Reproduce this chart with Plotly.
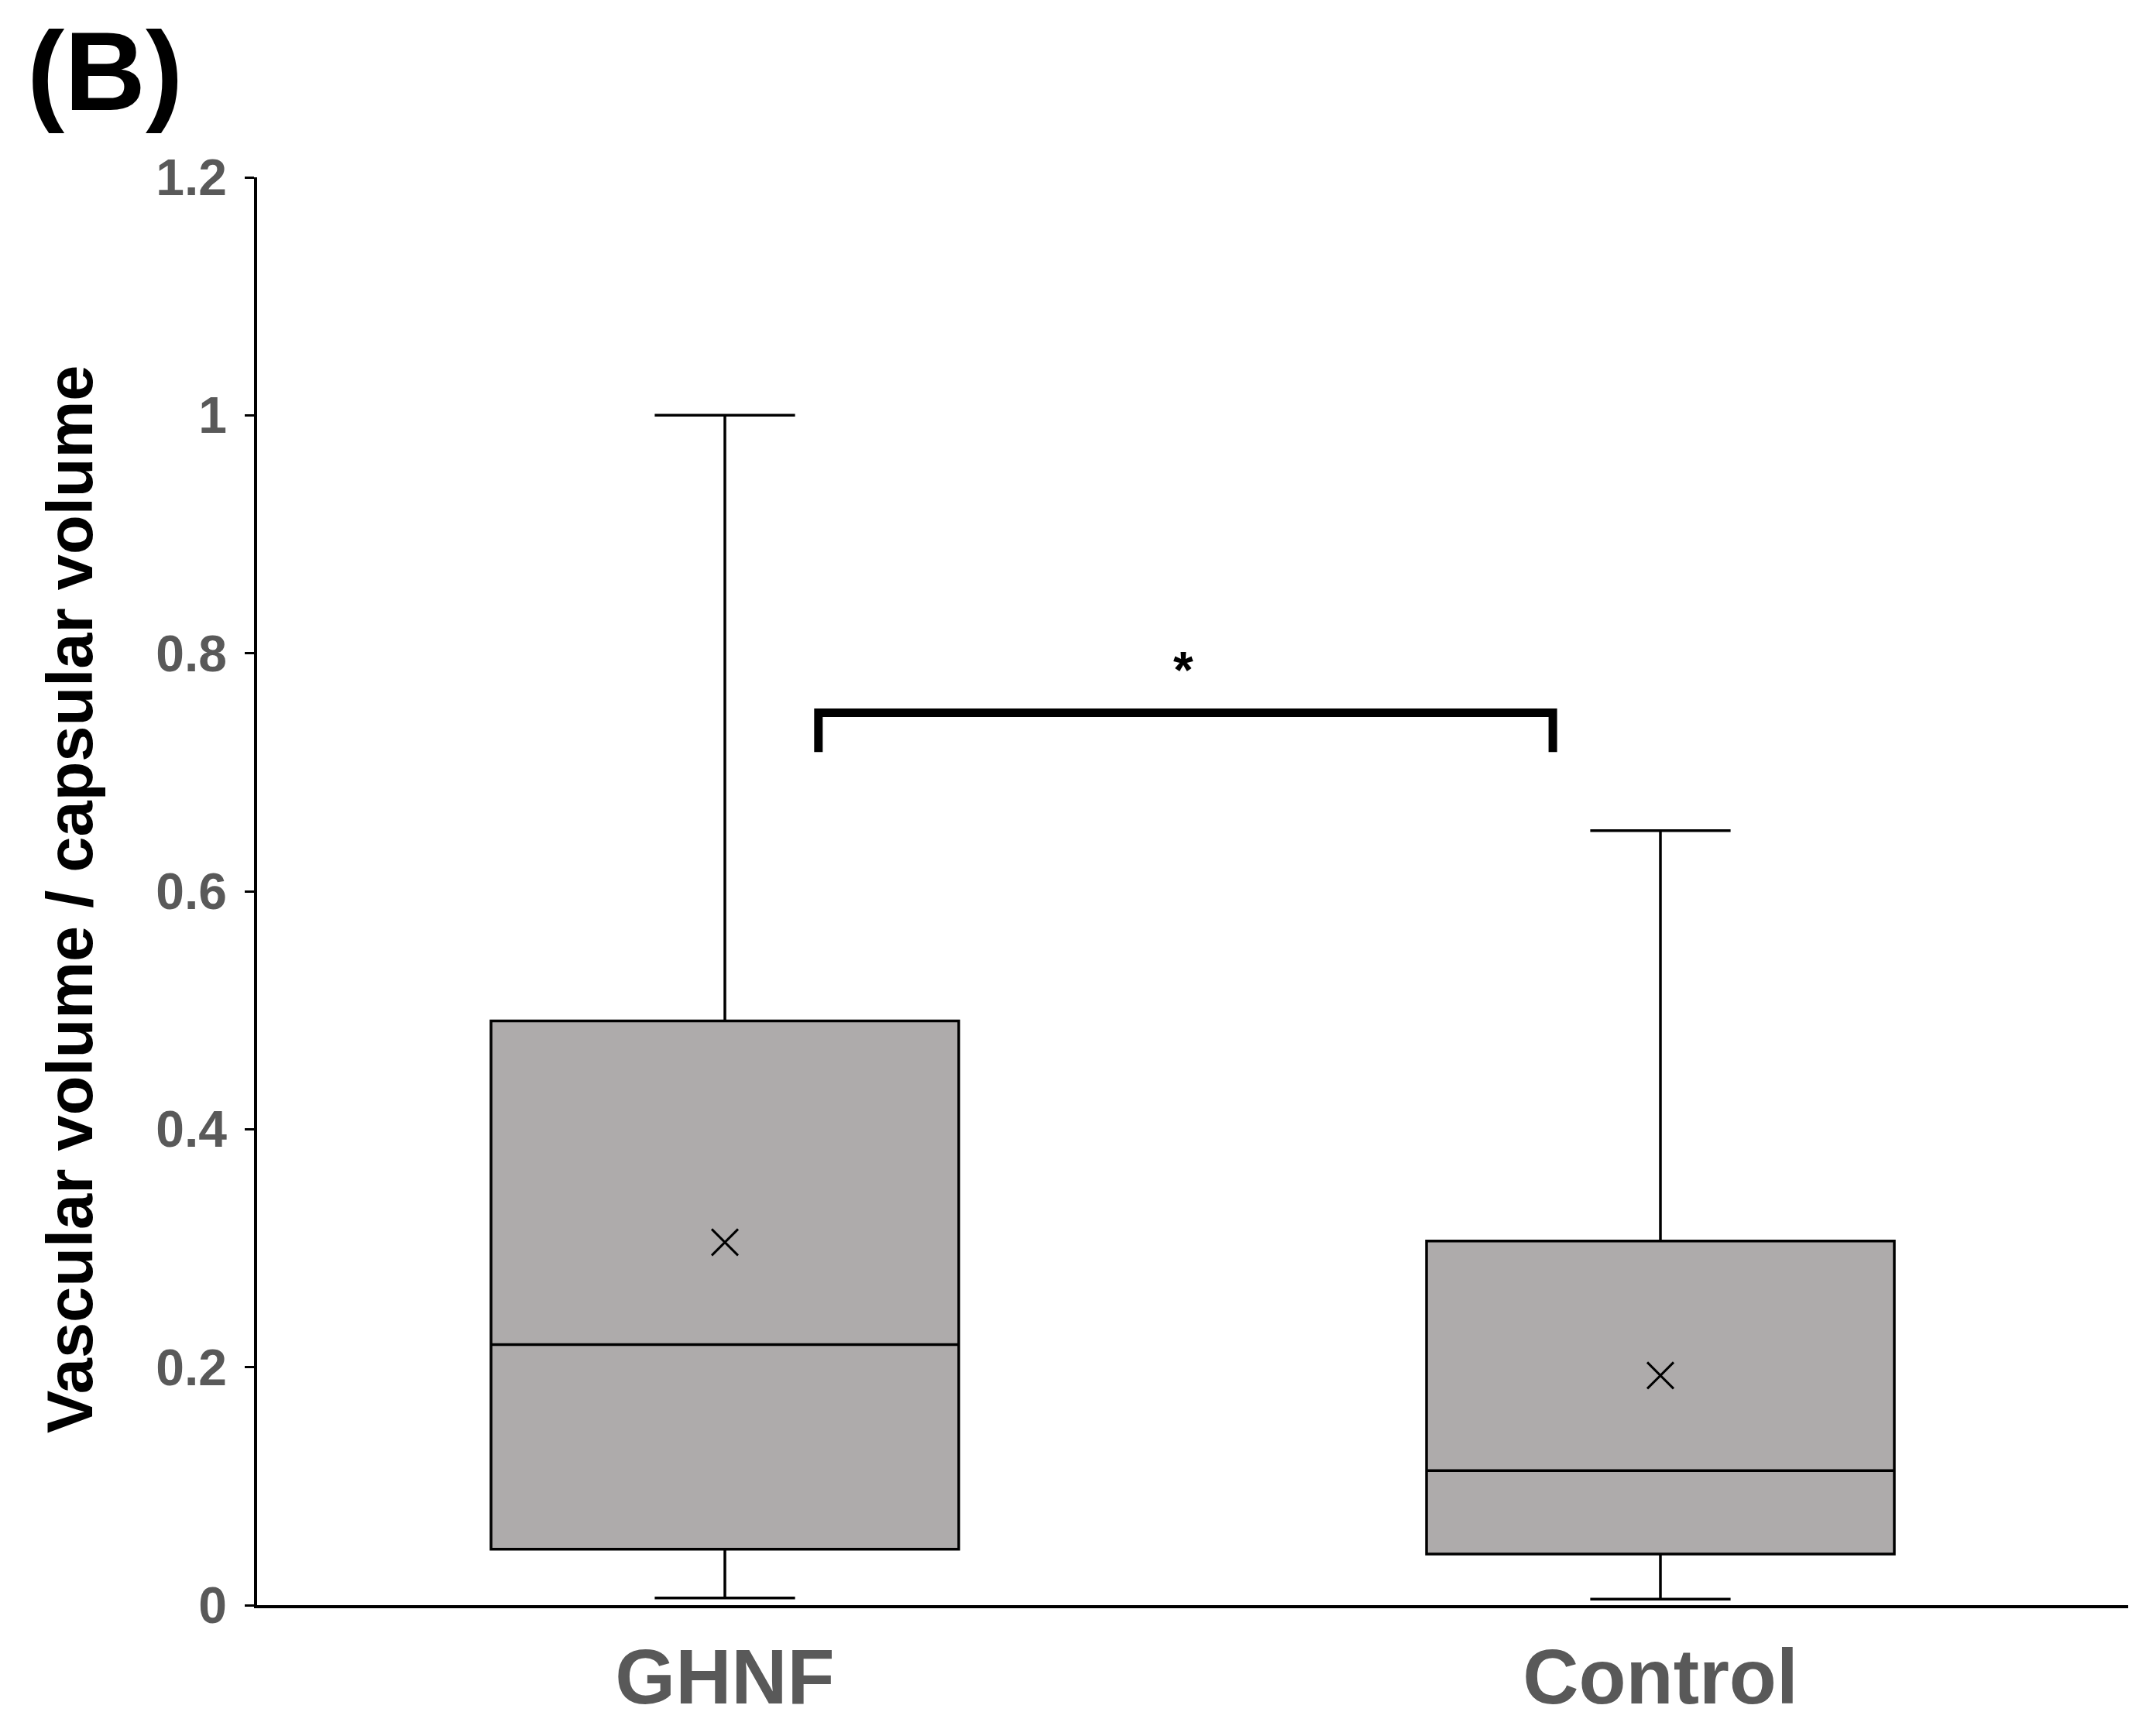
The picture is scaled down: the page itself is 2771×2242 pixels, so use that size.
import plotly.graph_objects as go

# ---- data ----
categories = ["GHNF", "Control"]
x_pos = [0, 1]
lower_whisker = [0.006, 0.005]
q1_vals = [0.047, 0.043]
median_vals = [0.219, 0.113]
q3_vals = [0.491, 0.306]
upper_whisker = [1.0, 0.651]
mean_vals = [0.305, 0.193]

y_tick_vals = [0, 0.2, 0.4, 0.6, 0.8, 1.0, 1.2]
y_tick_text = ["0", "0.2", "0.4", "0.6", "0.8", "1", "1.2"]

bracket_x = [0.10, 0.10, 0.885, 0.885]
bracket_y = [0.717, 0.75, 0.75, 0.717]
star_x, star_y = 0.49, 0.786

# ---- layout constants (page pixels; the page body has an 8px margin) ----
OFF = 8
W, H = 2771 - 2 * OFF, 2242 - 2 * OFF
PLOT_L, PLOT_R, PLOT_T, PLOT_B = 332, 2748, 229, 2073   # page coords
ML, MT = PLOT_L - OFF, PLOT_T - OFF
MR = W - (PLOT_R - OFF)
MB = H - (PLOT_B - OFF)
PW, PH = W - ML - MR, H - MT - MB
FONT = "Liberation Sans"
GRAY = "#595959"


def px_x(px):
    return (px - PLOT_L) / PW


def px_y(py):
    return (PLOT_B - py) / PH


fig = go.Figure()

fig.add_trace(go.Box(
    x=x_pos,
    q1=q1_vals,
    median=median_vals,
    q3=q3_vals,
    lowerfence=lower_whisker,
    upperfence=upper_whisker,
    width=0.5,
    whiskerwidth=0.3,
    fillcolor="#AEABAB",
    line=dict(color="black", width=3.5),
    boxpoints=False,
    showlegend=False,
    hoverinfo="skip",
))

fig.add_trace(go.Scatter(
    x=x_pos,
    y=mean_vals,
    mode="markers",
    marker=dict(symbol="x-thin", size=34, line=dict(color="black", width=3)),
    showlegend=False,
    hoverinfo="skip",
))

fig.add_trace(go.Scatter(
    x=bracket_x,
    y=bracket_y,
    mode="lines",
    line=dict(color="black", width=11),
    showlegend=False,
    hoverinfo="skip",
))

fig.add_annotation(
    x=star_x, y=star_y, xref="x", yref="y",
    text="*", showarrow=False,
    font=dict(family=FONT, size=66, color="black", weight="bold"),
)

fig.add_annotation(
    x=px_x(34), y=px_y(10), xref="paper", yref="paper",
    xanchor="left", yanchor="top", borderpad=0,
    text="(B)", showarrow=False,
    font=dict(family=FONT, size=145, color="black", weight="bold"),
)

fig.add_annotation(
    x=px_x(90), y=px_y(1162), xref="paper", yref="paper",
    xanchor="center", yanchor="middle", textangle=-90,
    text="Vascular volume / capsular volume", showarrow=False,
    font=dict(family=FONT, size=83, color="black", weight="bold"),
)

fig.update_layout(
    width=W, height=H,
    margin=dict(l=ML, r=MR, t=MT, b=MB, autoexpand=False),
    paper_bgcolor="white",
    plot_bgcolor="white",
    showlegend=False,
    xaxis=dict(
        range=[-0.5, 1.5],
        tickvals=x_pos,
        ticktext=categories,
        showgrid=False, zeroline=False,
        showline=True, linecolor="black", linewidth=3.5,
        ticks="",
        ticklabelstandoff=3,
        tickfont=dict(family=FONT, size=100, color=GRAY, weight="bold"),
    ),
    yaxis=dict(
        range=[0, 1.2],
        tickvals=y_tick_vals,
        ticktext=y_tick_text,
        showgrid=False, zeroline=False,
        showline=True, linecolor="black", linewidth=3.5,
        ticks="outside", ticklen=12, tickwidth=3, tickcolor="black",
        ticklabelstandoff=10,
        tickfont=dict(family=FONT, size=66, color=GRAY, weight="bold"),
    ),
)

fig.write_html("out.html")
